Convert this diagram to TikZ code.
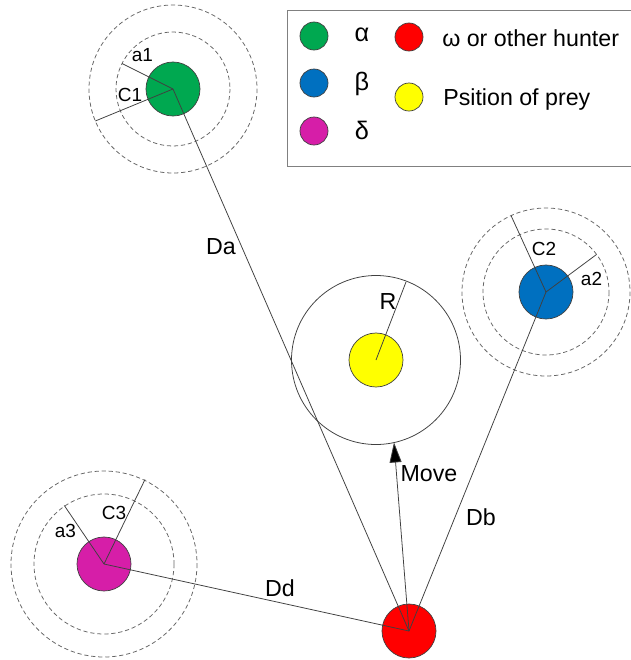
\documentclass[tikz,border=0pt]{standalone}
\usepackage{fontspec}
\setmainfont{Liberation Sans}
\usetikzlibrary{calc,arrows.meta}
\definecolor{alphagreen}{RGB}{0,168,80}
\definecolor{betablue}{RGB}{0,112,192}
\definecolor{deltapink}{RGB}{214,30,168}
\definecolor{omegared}{RGB}{255,0,0}
\definecolor{preyyellow}{RGB}{255,255,0}
\colorlet{edgegray}{black!75}
\colorlet{ringgray}{black!60}

\begin{document}
\begin{tikzpicture}[x=0.025cm,y=-0.025cm,
    wolf/.style={circle,draw=edgegray,line width=0.5pt,minimum size=1.35cm,inner sep=0pt},
    keydot/.style={circle,draw=edgegray,line width=0.5pt,minimum size=0.7cm,inner sep=0pt},
    ringline/.style={draw=ringgray,line width=0.55pt,dash pattern=on 3pt off 2pt},
    linkline/.style={draw=edgegray,line width=0.55pt},
    bigtext/.style={inner sep=0pt,font=\fontsize{16.5}{19}\selectfont},
    smalltext/.style={inner sep=0pt,font=\fontsize{13.5}{15}\selectfont}]
  \useasboundingbox (0,0) rectangle (631,660);

  % legend box (runs off the right edge)
  \draw[black!50,line width=0.7pt] (631,10) -| (287,166) -- (631,166);
  % legend entries
  \node[keydot,fill=alphagreen] (keyalpha) at (314,36) {};
  \node[keydot,fill=betablue] (keybeta) at (314,83) {};
  \node[keydot,fill=deltapink] (keydelta) at (314,131) {};
  \node[keydot,fill=omegared] (keyomega) at (409,37) {};
  \node[keydot,fill=preyyellow] (keyprey) at (409,97) {};
  \node[bigtext] (txtalpha) at (362,35) {\fontsize{18}{20}\selectfont α};
  \node[bigtext] (txtbeta) at (362,84) {\fontsize{18}{20}\selectfont β};
  \node[bigtext] (txtdelta) at (362,130) {\fontsize{18}{20}\selectfont δ};
  \node[bigtext,anchor=west] (txtomega) at (442,38) {ω or other hunter};
  \node[bigtext,anchor=west] (txtprey) at (443,99) {Psition of prey};

  % hunters and prey
  \node[wolf,fill=alphagreen] (alpha) at (173,89) {};
  \node[wolf,fill=betablue] (beta) at (546,292) {};
  \node[wolf,fill=deltapink] (delta) at (104,564) {};
  \node[wolf,fill=omegared] (omega) at (409,631) {};
  \node[wolf,fill=preyyellow] (prey) at (376,360) {};

  % dashed rings round the three leaders
  \foreach \w/\ri/\ro in {alpha/57/84, beta/63/84, delta/70/93} {
    \draw[ringline] (\w.center) circle (\ri);
    \draw[ringline] (\w.center) circle (\ro);
  }
  % encircling radius round the prey
  \draw[linkline] (prey.center) circle (84.5);

  % radius ends
  \coordinate (a1end) at (122,63.5);
  \coordinate (c1end) at (95.3,121);
  \coordinate (c2end) at (511,215.5);
  \coordinate (a2end) at (596.5,254.5);
  \coordinate (a3end) at (64.3,505.5);
  \coordinate (c3end) at (145,479.5);
  \coordinate (rend) at (406,282);
  \coordinate (movetip) at (394,442.5);

  % radii
  \draw[linkline] (alpha.center) -- (a1end);
  \draw[linkline] (alpha.center) -- (c1end);
  \draw[linkline] (beta.center) -- (c2end);
  \draw[linkline] (beta.center) -- (a2end);
  \draw[linkline] (delta.center) -- (a3end);
  \draw[linkline] (delta.center) -- (c3end);
  \draw[linkline] (prey.center) -- (rend);

  % distances to the hunter
  \draw[linkline] (alpha.center) -- (omega.center);
  \draw[linkline] (beta.center) -- (omega.center);
  \draw[linkline] (delta.center) -- (omega.center);
  % move towards the prey
  \draw[linkline,-{Triangle[length=0.5cm,width=0.3cm,fill=black]}] (omega.center) -- (movetip);

  % labels
  \node[smalltext] (lbla1) at (142.5,55) {a1};
  \node[smalltext] (lblc1) at (130,95) {C1};
  \node[smalltext] (lblc2) at (544,249) {C2};
  \node[smalltext] (lbla2) at (591.5,279) {a2};
  \node[smalltext] (lblc3) at (114,513) {C3};
  \node[smalltext] (lbla3) at (65.5,531) {a3};
  \node[bigtext] (lblr) at (388,302) {R};
  \node[bigtext] (lblda) at (221,246.5) {Da};
  \node[bigtext] (lbldb) at (481,517) {Db};
  \node[bigtext] (lbldd) at (280,588) {Dd};
  \node[bigtext] (lblmove) at (429,474) {Move};
\end{tikzpicture}
\end{document}
